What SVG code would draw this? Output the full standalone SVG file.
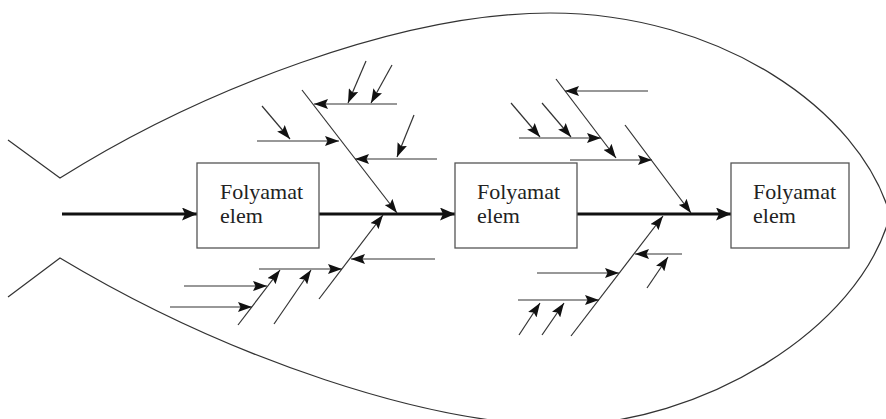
<svg xmlns="http://www.w3.org/2000/svg" width="886" height="419" viewBox="0 0 886 419">
<style>
.bg{fill:#ffffff}
.fish{fill:none;stroke:#333;stroke-width:1.2}
.box{fill:#ffffff;stroke:#555;stroke-width:1.3}
.lbl{font-family:"Liberation Serif","Times New Roman",serif;font-size:22px;fill:#222}
.spine{stroke:#111;stroke-width:3;fill:none;marker-end:url(#big)}
.bone{stroke:#333;stroke-width:1.2;fill:none;marker-end:url(#small)}
</style>
<defs>
<marker id="small" viewBox="0 0 14 10" markerUnits="userSpaceOnUse" markerWidth="14" markerHeight="10" refX="14" refY="5" orient="auto">
<path d="M0,0 L14,5 L0,10 L2.5,5 z" fill="#111"/>
</marker>
<marker id="big" viewBox="0 0 15 13" markerUnits="userSpaceOnUse" markerWidth="15" markerHeight="13" refX="15" refY="6.5" orient="auto">
<path d="M0,0 L15,6.5 L0,13 L3,6.5 z" fill="#111"/>
</marker>
</defs>
<rect class="bg" x="0" y="0" width="886" height="419"/>
<g id="outline">
<path class="fish" d="M8,140 L60,178 C200,90 400,13 550,13 C720,13 860,110 890,215 C860,330 700,425 560,425 C430,425 230,360 60,258 L8,297"/>
</g>
<g id="connectors">
<line class="spine" x1="62" y1="214" x2="197" y2="214"/>
<line class="spine" x1="319" y1="214" x2="455" y2="214"/>
<line class="spine" x1="577" y1="214" x2="731" y2="214"/>

<line class="bone" x1="302" y1="90" x2="397" y2="213"/>
<line class="bone" x1="397" y1="104" x2="314" y2="104"/>
<line class="bone" x1="366" y1="61" x2="348" y2="103"/>
<line class="bone" x1="392" y1="65" x2="371" y2="103"/>
<line class="bone" x1="257" y1="141" x2="339" y2="141"/>
<line class="bone" x1="262" y1="106" x2="290" y2="139"/>
<line class="bone" x1="437" y1="159" x2="355" y2="159"/>
<line class="bone" x1="414" y1="115" x2="397" y2="157"/>

<line class="bone" x1="319" y1="299" x2="383" y2="215"/>
<line class="bone" x1="435" y1="259" x2="351" y2="259"/>
<line class="bone" x1="259" y1="269" x2="342" y2="269"/>
<line class="bone" x1="238" y1="325" x2="280" y2="270"/>
<line class="bone" x1="274" y1="324" x2="311" y2="270"/>
<line class="bone" x1="184" y1="286" x2="267" y2="286"/>
<line class="bone" x1="170" y1="307" x2="252" y2="307"/>

<line class="bone" x1="556" y1="79" x2="616" y2="158"/>
<line class="bone" x1="648" y1="91" x2="565" y2="91"/>
<line class="bone" x1="511" y1="103" x2="540" y2="137"/>
<line class="bone" x1="542" y1="103" x2="571" y2="137"/>
<line class="bone" x1="519" y1="138" x2="601" y2="138"/>
<line class="bone" x1="570" y1="160" x2="652" y2="160"/>
<line class="bone" x1="625" y1="125" x2="691" y2="213"/>

<line class="bone" x1="571" y1="336" x2="663" y2="216"/>
<line class="bone" x1="682" y1="254" x2="635" y2="254"/>
<line class="bone" x1="647" y1="288" x2="668" y2="257"/>
<line class="bone" x1="537" y1="273" x2="619" y2="273"/>
<line class="bone" x1="518" y1="300" x2="599" y2="300"/>
<line class="bone" x1="519" y1="335" x2="540" y2="303"/>
<line class="bone" x1="542" y1="335" x2="564" y2="303"/>
</g>
<g id="node1">
<rect class="box" x="197" y="163" width="122" height="85"/>
<text class="lbl" x="220" y="199">Folyamat</text>
<text class="lbl" x="220" y="223">elem</text>
</g>
<g id="node2">
<rect class="box" x="455" y="163" width="122" height="85"/>
<text class="lbl" x="477" y="199">Folyamat</text>
<text class="lbl" x="477" y="223">elem</text>
</g>
<g id="node3">
<rect class="box" x="731" y="163" width="118" height="85"/>
<text class="lbl" x="753" y="199">Folyamat</text>
<text class="lbl" x="753" y="223">elem</text>
</g>
</svg>
